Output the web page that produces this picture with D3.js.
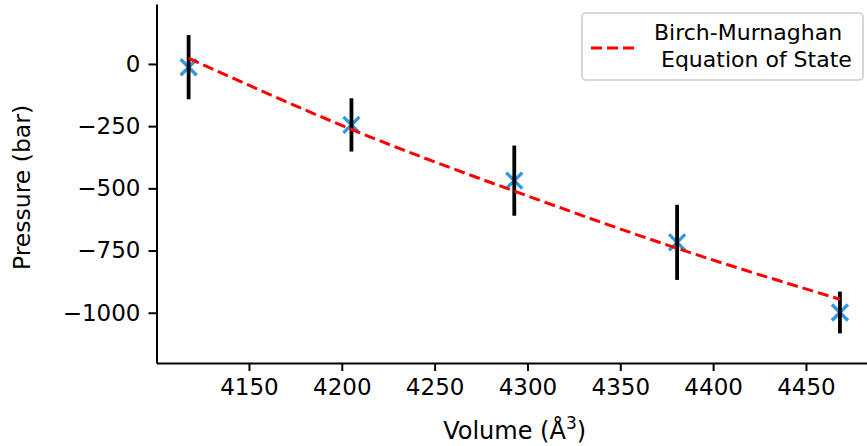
<!DOCTYPE html>
<html>
<head>
<meta charset="utf-8">
<script src="https://cdn.jsdelivr.net/npm/d3@7"></script>
<style>
	body { margin: 0; background: #fff; }
	svg { display: block; overflow: hidden; }
	text { font-family: 'DejaVu Sans', sans-serif; }
</style>
</head>
<body>
<div id="chart"></div>
<script>
// measured points
const volume = [4117.5, 4205.2, 4292.9, 4380.6, 4468.3];
const pressure = [-13, -245, -469, -717, -999];
const pressureErr = [129, 107, 141, 151, 84];

// fitted equation of state, read at the same volumes
const fitVolume = [4117.5, 4205.2, 4292.9, 4380.6, 4468.3];
const fitPressure = [23, -263, -511, -741, -946];

const xTicks = [4150, 4200, 4250, 4300, 4350, 4400, 4450];
const yTicks = [0, -250, -500, -750, -1000];

const legendLines = ['Birch-Murnaghan', ' Equation of State'];

let width = 867,
	height = 446,
	fontSize = 23,
	x = d3.scaleLinear().domain([4100.2, 4486]).range([156.5, 872.8]),
	y = d3.scaleLinear().domain([-1202, 241]).range([363, 4]);

let points = volume.map((v, i) => ({v: v, p: pressure[i], e: pressureErr[i]}));
let fit = fitVolume.map((v, i) => ({v: v, p: fitPressure[i]}));

let svg = d3.select('#chart').append('svg')
	.attr('width', width)
	.attr('height', height);

let minus = d => (d < 0 ? '\u2212' + Math.abs(d) : '' + d);

svg.append('g')
	.attr('class', 'axis x--axis')
	.attr('transform', `translate(0, ${y.range()[0]})`)
	.call(d3.axisBottom(x).tickValues(xTicks).tickSizeInner(8).tickSizeOuter(0).tickPadding(8).tickFormat(d => '' + d));

svg.append('g')
	.attr('class', 'axis y--axis')
	.attr('transform', `translate(${x.range()[0]}, 0)`)
	.call(d3.axisLeft(y).tickValues(yTicks).tickSizeInner(8).tickSizeOuter(0).tickPadding(8).tickFormat(minus));

svg.selectAll('.axis path, .axis line')
	.style('stroke', '#000')
	.style('stroke-width', '2px');
svg.selectAll('.axis .tick text')
	.style('font-size', fontSize + 'px')
	.style('font-family', "'DejaVu Sans', sans-serif")
	.style('fill', '#000');

// markers
let s = 8;
svg.append('g').attr('class', 'markers')
	.selectAll('path')
	.data(points)
	.enter().append('path')
	.attr('d', d => {
		let cx = x(d.v), cy = y(d.p);
		return `M${cx - s},${cy - s}L${cx + s},${cy + s}M${cx - s},${cy + s}L${cx + s},${cy - s}`;
	})
	.style('fill', 'none')
	.style('stroke', '#3498db')
	.style('stroke-width', 3.4);

// error bars
svg.append('g').attr('class', 'errorbars')
	.selectAll('line')
	.data(points)
	.enter().append('line')
	.attr('x1', d => x(d.v))
	.attr('x2', d => x(d.v))
	.attr('y1', d => y(d.p + d.e))
	.attr('y2', d => y(d.p - d.e))
	.style('stroke', '#000')
	.style('stroke-width', 3.8);

// fitted curve
let line = d3.line()
	.x(d => x(d.v))
	.y(d => y(d.p))
	.curve(d3.curveNatural);

svg.append('path')
	.datum(fit)
	.attr('d', line)
	.style('fill', 'none')
	.style('stroke', '#ff0000')
	.style('stroke-width', 3)
	.style('stroke-dasharray', '11,5');

// axis labels
let xLabel = svg.append('text')
	.attr('x', (x.range()[0] + x.range()[1]) / 2)
	.attr('y', 439)
	.style('text-anchor', 'middle')
	.style('font-size', '24px');
xLabel.append('tspan').text('Volume (\u00c5');
xLabel.append('tspan').attr('dy', -10).style('font-size', '17px').text('3');
xLabel.append('tspan').attr('dy', 10).text(')');

svg.append('text')
	.attr('transform', `translate(30, ${(y.range()[0] + y.range()[1]) / 2 + 4}) rotate(-90)`)
	.style('text-anchor', 'middle')
	.style('font-size', '23.5px')
	.text('Pressure (bar)');

// legend
let legend = svg.append('g').attr('class', 'legend');
legend.append('rect')
	.attr('x', 582)
	.attr('y', 13)
	.attr('width', 281)
	.attr('height', 67)
	.attr('rx', 4)
	.style('fill', 'rgba(255,255,255,0.8)')
	.style('stroke', '#cccccc')
	.style('stroke-width', 1.6);
legend.append('line')
	.attr('x1', 591)
	.attr('x2', 636)
	.attr('y1', 48)
	.attr('y2', 48)
	.style('stroke', '#ff0000')
	.style('stroke-width', 3)
	.style('stroke-dasharray', '11,5');
legend.append('text')
	.style('font-size', '22px')
	.style('white-space', 'pre')
	.selectAll('tspan')
	.data(legendLines)
	.enter().append('tspan')
	.attr('x', 654)
	.attr('y', (d, i) => 40 + i * 26.5)
	.text(d => d);
</script>
</body>
</html>
